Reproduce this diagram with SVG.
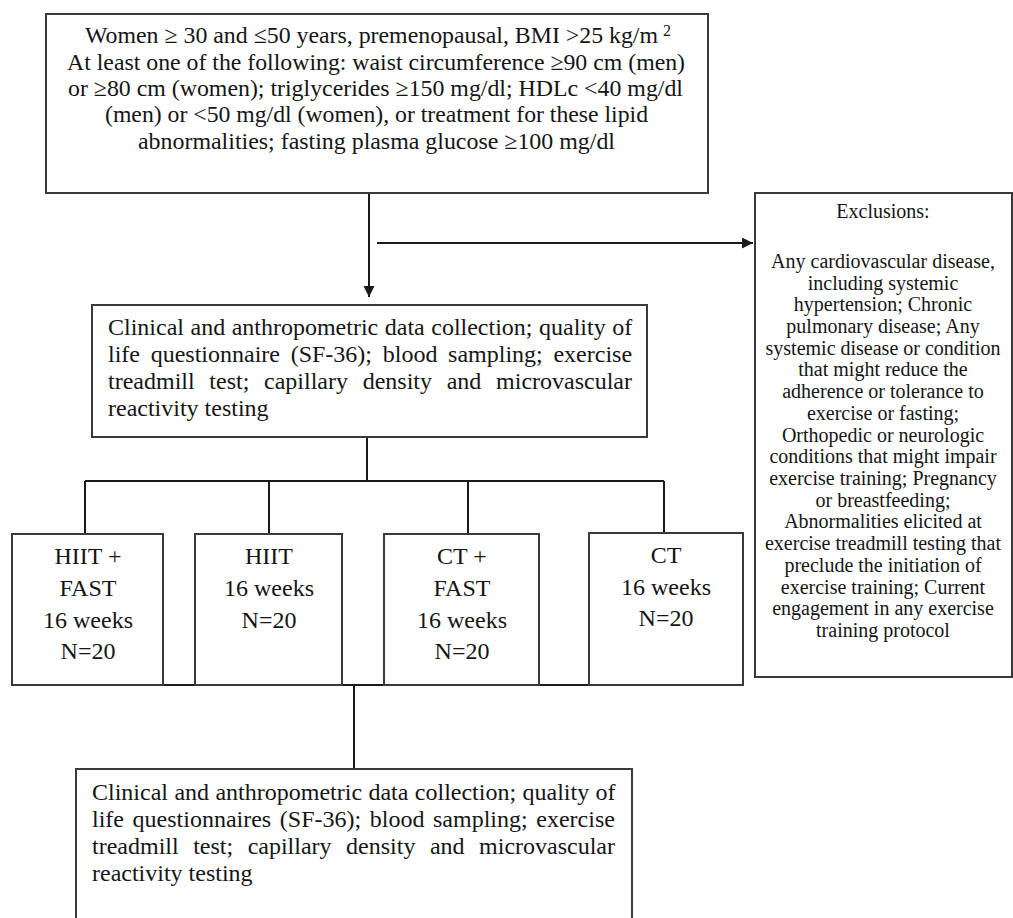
<svg xmlns="http://www.w3.org/2000/svg" width="1013" height="918" viewBox="0 0 1013 918">
  <style>
    .box { fill: #ffffff; stroke: #3a3a3a; stroke-width: 2; }
    .conn { stroke: #1a1a1a; stroke-width: 2; fill: none; }
    .t { font-family: "Liberation Serif", "Times New Roman", serif; fill: #151515; }
    .t24 { font-size: 24px; }
    .t20 { font-size: 20px; }
    .mid { text-anchor: middle; }
  </style>
  <defs>
    <marker id="arrow" markerUnits="userSpaceOnUse" markerWidth="12" markerHeight="12" refX="11" refY="5.5" orient="auto">
      <path d="M0,0 L11,5.5 L0,11 z" fill="#1a1a1a"/>
    </marker>
  </defs>
  <rect width="1013" height="918" fill="#ffffff"/>

  <g id="connectors">
    <line class="conn" x1="369" y1="193" x2="369" y2="297" marker-end="url(#arrow)"/>
    <line class="conn" x1="377" y1="243" x2="753" y2="243" marker-end="url(#arrow)"/>
    <line class="conn" x1="367" y1="437" x2="367" y2="481"/>
    <line class="conn" x1="85" y1="481" x2="664" y2="481"/>
    <line class="conn" x1="85" y1="481" x2="85" y2="534"/>
    <line class="conn" x1="269" y1="481" x2="269" y2="534"/>
    <line class="conn" x1="468" y1="481" x2="468" y2="534"/>
    <line class="conn" x1="664" y1="481" x2="664" y2="533"/>
    <line class="conn" x1="12" y1="685" x2="743" y2="685"/>
    <line class="conn" x1="354" y1="685" x2="354" y2="769"/>
  </g>

  <g id="inclusion">
    <rect class="box" x="46" y="14" width="662" height="179"/>
    <text class="t t24" x="85" y="43" textLength="573" lengthAdjust="spacingAndGlyphs">Women ≥ 30 and ≤50 years, premenopausal, BMI &gt;25 kg/m</text>
    <text class="t" x="663" y="36" font-size="16">2</text>
    <text class="t t24" x="67" y="70" textLength="618" lengthAdjust="spacingAndGlyphs">At least one of the following: waist circumference ≥90 cm (men)</text>
    <text class="t t24" x="68" y="96" textLength="615" lengthAdjust="spacingAndGlyphs">or ≥80 cm (women); triglycerides ≥150 mg/dl; HDLc &lt;40 mg/dl</text>
    <text class="t t24" x="105" y="122" textLength="543" lengthAdjust="spacingAndGlyphs">(men) or &lt;50 mg/dl (women), or treatment for these lipid</text>
    <text class="t t24" x="138" y="149" textLength="477" lengthAdjust="spacingAndGlyphs">abnormalities; fasting plasma glucose ≥100 mg/dl</text>
  </g>

  <g id="exclusions">
    <rect class="box" x="755" y="193" width="257" height="484"/>
    <g class="t t20 mid">
      <text x="883" y="218">Exclusions:</text>
      <text x="883" y="268">Any cardiovascular disease,</text>
      <text x="883" y="290">including systemic</text>
      <text x="883" y="311">hypertension; Chronic</text>
      <text x="883" y="333">pulmonary disease; Any</text>
      <text x="883" y="355">systemic disease or condition</text>
      <text x="883" y="376">that might reduce the</text>
      <text x="883" y="398">adherence or tolerance to</text>
      <text x="883" y="420">exercise or fasting;</text>
      <text x="883" y="442">Orthopedic or neurologic</text>
      <text x="883" y="463">conditions that might impair</text>
      <text x="883" y="485">exercise training; Pregnancy</text>
      <text x="883" y="507">or breastfeeding;</text>
      <text x="883" y="528">Abnormalities elicited at</text>
      <text x="883" y="550">exercise treadmill testing that</text>
      <text x="883" y="572">preclude the initiation of</text>
      <text x="883" y="594">exercise training; Current</text>
      <text x="883" y="615">engagement in any exercise</text>
      <text x="883" y="637">training protocol</text>
    </g>
  </g>

  <g id="baseline">
    <rect class="box" x="92" y="305" width="555" height="132"/>
    <text class="t t24" x="108" y="335" word-spacing="0.5">Clinical and anthropometric data collection; quality of</text>
    <text class="t t24" x="108" y="362" word-spacing="4.7">life questionnaire (SF-36); blood sampling; exercise</text>
    <text class="t t24" x="108" y="389" word-spacing="8.7">treadmill test; capillary density and microvascular</text>
    <text class="t t24" x="108" y="416">reactivity testing</text>
  </g>

  <g id="hiit-fast">
    <rect class="box" x="12" y="534" width="151" height="151"/>
    <g class="t t24 mid">
      <text x="88" y="564">HIIT +</text>
      <text x="88" y="596">FAST</text>
      <text x="88" y="628">16 weeks</text>
      <text x="88" y="659">N=20</text>
    </g>
  </g>

  <g id="hiit">
    <rect class="box" x="195" y="534" width="147" height="151"/>
    <g class="t t24 mid">
      <text x="269" y="564">HIIT</text>
      <text x="269" y="596">16 weeks</text>
      <text x="269" y="628">N=20</text>
    </g>
  </g>

  <g id="ct-fast">
    <rect class="box" x="384" y="534" width="155" height="151"/>
    <g class="t t24 mid">
      <text x="462" y="564">CT +</text>
      <text x="462" y="596">FAST</text>
      <text x="462" y="628">16 weeks</text>
      <text x="462" y="659">N=20</text>
    </g>
  </g>

  <g id="ct">
    <rect class="box" x="589" y="533" width="154" height="152"/>
    <g class="t t24 mid">
      <text x="666" y="563">CT</text>
      <text x="666" y="595">16 weeks</text>
      <text x="666" y="626">N=20</text>
    </g>
  </g>

  <g id="followup">
    <rect class="box" x="76" y="769" width="556" height="200"/>
    <text class="t t24" x="92" y="800" word-spacing="0.4">Clinical and anthropometric data collection; quality of</text>
    <text class="t t24" x="92" y="827" word-spacing="2.6">life questionnaires (SF-36); blood sampling; exercise</text>
    <text class="t t24" x="92" y="854" word-spacing="8.5">treadmill test; capillary density and microvascular</text>
    <text class="t t24" x="92" y="881">reactivity testing</text>
  </g>
</svg>
